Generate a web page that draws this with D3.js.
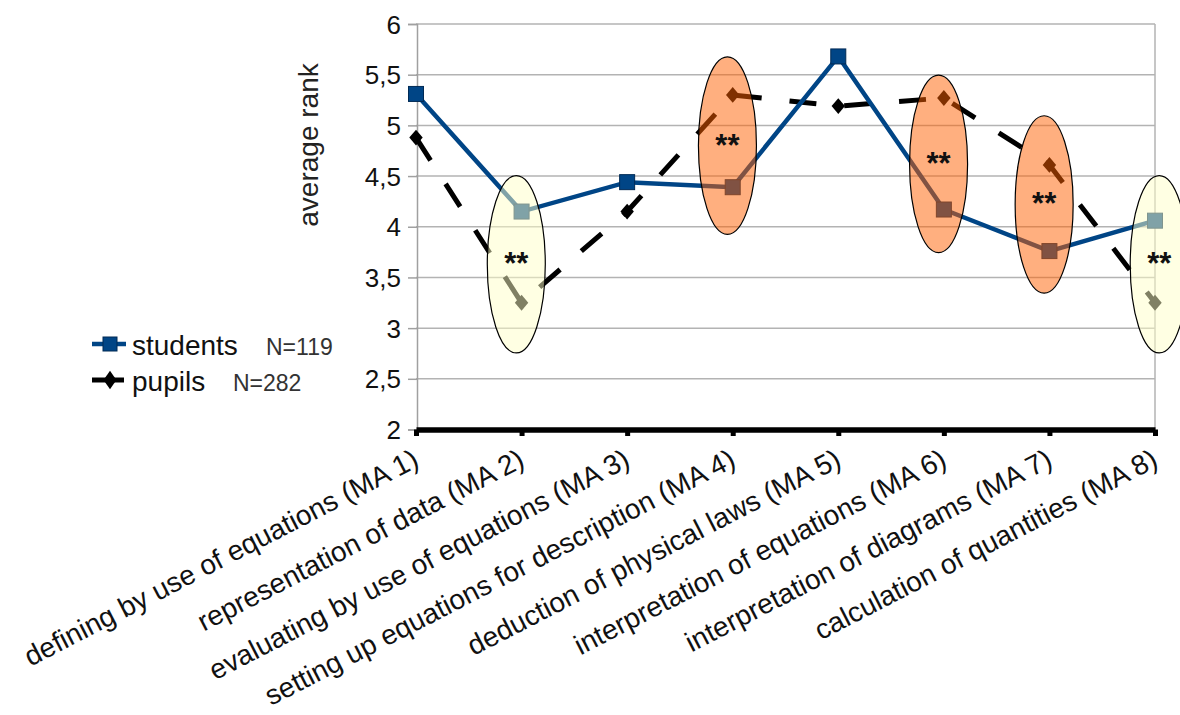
<!DOCTYPE html>
<html><head><meta charset="utf-8">
<script src="https://cdn.jsdelivr.net/npm/d3@7"></script>
<style>body{margin:0;background:#fff;}svg{display:block;font-family:"Liberation Sans",Arial,sans-serif;}</style>
</head><body><svg id="c" width="1180" height="715"></svg>
<script>
const categories = ["defining by use of equations (MA 1)","representation of data (MA 2)","evaluating by use of equations (MA 3)","setting up equations for description (MA 4)","deduction of physical laws (MA 5)","interpretation of equations (MA 6)","interpretation of diagrams (MA 7)","calculation of quantities (MA 8)"];
const students = [5.31, 4.15, 4.44, 4.39, 5.68, 4.17, 3.76, 4.06];
const pupils = [4.88, 3.25, 4.15, 5.30, 5.19, 5.27, 4.61, 3.25];
const yTicks = [2, 2.5, 3, 3.5, 4, 4.5, 5, 5.5, 6];
const yTickLabels = ["2","2,5","3","3,5","4","4,5","5","5,5","6"];
// significance annotations: category index, type, centre (rank units), half-height (rank units)
const sigIdx = [1, 3, 5, 6, 7];
const sigType = ["low","high","high","high","low"];
const sigCenter = [3.63, 4.80, 4.62, 4.22, 3.63];
const sigHalf = 0.875;
const sigLabel = "**";
const seriesNames = ["students","pupils"];
const seriesN = ["N=119","N=282"];

const FONT = "Liberation Sans, Arial, sans-serif";
const svg = d3.select("#c");
const x = d3.scalePoint().domain(categories).range([416, 1155]);
const y = d3.scaleLinear().domain([2, 6]).range([429.5, 24]);

// gridlines
svg.append("g").selectAll("line").data(yTicks.filter(t=>t>2)).join("line")
  .attr("x1", 416).attr("x2", 1155).attr("y1", d=>y(d)).attr("y2", d=>y(d))
  .attr("stroke", "#b3b3b3").attr("stroke-width", 1.5);
svg.append("line").attr("x1",1155).attr("x2",1155).attr("y1",y(6)).attr("y2",y(2)).attr("stroke","#b3b3b3").attr("stroke-width",1.5);

// y axis
const yAxis = d3.axisLeft(y).tickValues(yTicks).tickFormat((d,i)=>yTickLabels[i]).tickSize(9).tickPadding(7);
const gy = svg.append("g").attr("transform","translate(417,0)").call(yAxis);
gy.attr("font-size",null).attr("font-family",null);
gy.select(".domain").attr("stroke","#a0a0a0").attr("stroke-width",1.5);
gy.selectAll(".tick line").attr("stroke","#a0a0a0").attr("stroke-width",1.5);
gy.selectAll(".tick text").style("font-size","26px").style("font-family",FONT).attr("fill","#111").attr("dy","0.35em");

// x axis
const xAxis = d3.axisBottom(x).tickSize(0).tickFormat("");
const gx = svg.append("g").attr("transform","translate(0,429.5)").call(xAxis);
gx.attr("font-size",null).attr("font-family",null);
gx.select(".domain").attr("stroke","#000").attr("stroke-width",5.5);
gx.selectAll(".tick").append("rect").attr("x",-2.5).attr("y",0).attr("width",5).attr("height",6.5).attr("fill","#000");
gx.selectAll(".tick").append("text")
  .attr("transform","translate(4,36) rotate(-27.3)")
  .attr("text-anchor","end").attr("fill","#111")
  .style("font-size","28px").style("font-family",FONT)
  .text(d=>d);

// y title
svg.append("text").attr("transform","translate(318,145) rotate(-90)").attr("text-anchor","middle")
  .style("font-size","28px").style("font-family",FONT).attr("fill","#222").text("average rank");

// pupils line
const line = d3.line().x((d,i)=>x(categories[i])).y(d=>y(d));
svg.append("path").datum(pupils).attr("d",line).attr("fill","none").attr("stroke","#000")
  .attr("stroke-width",5).attr("stroke-dasharray","27,28");
const diamond = d3.symbol().type(d3.symbolDiamond).size(100);
svg.append("g").selectAll("path").data(pupils).join("path")
  .attr("transform",(d,i)=>`translate(${x(categories[i])},${y(d)}) scale(1.25,0.85)`)
  .attr("d",diamond).attr("fill","#000");

// students line
svg.append("path").datum(students).attr("d",line).attr("fill","none").attr("stroke","#004586").attr("stroke-width",4.5);
svg.append("g").selectAll("rect").data(students).join("rect")
  .attr("x",(d,i)=>x(categories[i])-7.5).attr("y",d=>y(d)-7.5).attr("width",15).attr("height",15)
  .attr("fill","#004586").attr("stroke","#002a55").attr("stroke-width",1);

// significance ellipses
const step = x.step();
const centers = sigIdx.map((ci,k)=>({ci, k,
  cx: x(categories[ci]) + (ci===7 ? 0.04*step : -0.05*step),
  cy: y(sigCenter[k]),
  ry: y(sigCenter[k]-sigHalf) - y(sigCenter[k])
}));
const eg = svg.append("g");
eg.selectAll("ellipse").data(centers).join("ellipse")
  .attr("cx",d=>d.cx).attr("cy",d=>d.cy).attr("rx",29).attr("ry",d=>d.ry)
  .attr("fill",d=>sigType[d.k]==="low"?"#ffffc8":"#ff6000").attr("fill-opacity",0.5)
  .attr("stroke","#000").attr("stroke-width",1.2);
eg.selectAll("text").data(centers).join("text")
  .attr("x",d=>d.cx).attr("y",d=>d.cy+10).attr("text-anchor","middle")
  .style("font-size","31px").style("font-family",FONT).attr("font-weight","bold").attr("fill","#111").text(sigLabel);

// legend
const lg = svg.append("g");
const ly = [344, 380];
lg.append("line").attr("x1",92).attr("x2",126).attr("y1",ly[0]).attr("y2",ly[0]).attr("stroke","#004586").attr("stroke-width",4.5);
lg.append("rect").attr("x",103).attr("y",ly[0]-7).attr("width",14).attr("height",14).attr("fill","#004586").attr("stroke","#002a55");
lg.append("line").attr("x1",92).attr("x2",124).attr("y1",ly[1]).attr("y2",ly[1]).attr("stroke","#000").attr("stroke-width",5);
lg.append("path").attr("transform",`translate(110,${ly[1]}) scale(1.2,1)`).attr("d",diamond).attr("fill","#000");
seriesNames.forEach((n,i)=>{
  lg.append("text").attr("x",132).attr("y",ly[i]+11).style("font-size","28px").style("font-family",FONT).attr("fill","#111").text(n);
});
[266, 233].forEach((xx,i)=>{
  lg.append("text").attr("x",xx).attr("y",ly[i]+11).style("font-size","23px").style("font-family",FONT).attr("fill","#333").text(seriesN[i]);
});
</script></body></html>
